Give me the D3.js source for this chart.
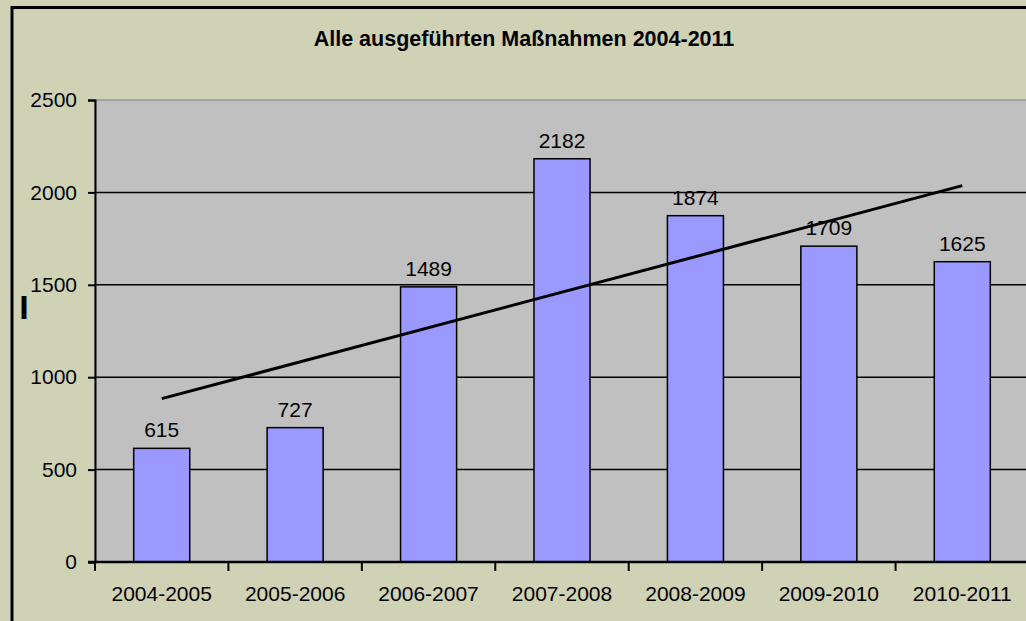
<!DOCTYPE html>
<html>
<head>
<meta charset="utf-8">
<script src="https://cdn.jsdelivr.net/npm/d3@7"></script>
<style>
  body { margin:0; background:#d0d2b5; }
  svg text { font-family: "Liberation Sans", Arial, sans-serif; }
</style>
</head>
<body>
<div id="chart"></div>
<script>
var categories = ["2004-2005","2005-2006","2006-2007","2007-2008","2008-2009","2009-2010","2010-2011"]
var values = [615, 727, 1489, 2182, 1874, 1709, 1625]
var yTicks = [0, 500, 1000, 1500, 2000, 2500]
var title = "Alle ausgeführten Maßnahmen 2004-2011"
var yTitle = "I"

var W = 1026, H = 621
var margin = {top: 100, left: 95, right: -3, bottom: 59} // plot runs off the right edge like the original
var width = W - margin.left - margin.right
var height = H - margin.top - margin.bottom
var fs = 21

var root = d3.select("#chart").append("svg")
    .attr("width", W).attr("height", H)

// chart area frame (cut off at right/bottom)
root.append("rect")
    .attr("x", 12).attr("y", 7.5).attr("width", W + 20).attr("height", H + 20)
    .attr("fill", "#d0d2b5").attr("stroke", "#000").attr("stroke-width", 3)

root.append("text")
    .attr("x", 524).attr("y", 46).attr("text-anchor", "middle")
    .attr("font-size", 21.5).attr("font-weight", "bold")
    .text(title)

root.append("text")
    .attr("x", 24).attr("y", 319).attr("text-anchor", "middle")
    .attr("font-size", 34).attr("font-weight", "bold")
    .text(yTitle)

var svg = root.append("g").attr("transform", `translate(${margin.left},${margin.top})`)

var x = d3.scaleBand().domain(categories).range([0, width]).paddingInner(0.58).paddingOuter(0.29)
var xc = d3.scalePoint().domain(categories).range([0, width]).padding(0.5) // category centres
var y = d3.scaleLinear().domain([0, 2500]).range([height, 0])

svg.append("rect").attr("width", width).attr("height", height)
    .attr("fill", "#c0c0c0").attr("stroke", "#808080").attr("stroke-width", 1)

// gridlines
svg.append("g")
    .selectAll("line").data(yTicks.filter(d => d > 0 && d < 2500)).join("line")
    .attr("x1", 0).attr("x2", width)
    .attr("y1", d => y(d)).attr("y2", d => y(d))
    .attr("stroke", "#000").attr("stroke-width", 1.5)

// bars
svg.append("g")
    .selectAll("rect").data(values).join("rect")
    .attr("x", (d, i) => x(categories[i]))
    .attr("y", d => y(d))
    .attr("width", x.bandwidth())
    .attr("height", d => height - y(d))
    .attr("fill", "#9999ff").attr("stroke", "#000").attr("stroke-width", 1.5)

// value labels
svg.append("g")
    .selectAll("text").data(values).join("text")
    .attr("x", (d, i) => xc(categories[i]))
    .attr("y", d => y(d) - 11)
    .attr("text-anchor", "middle").attr("font-size", fs)
    .text(d => d)

// linear trendline (least squares, like Excel)
var n = values.length
var mx = d3.mean(values, (d, i) => i), my = d3.mean(values)
var slope = d3.sum(values, (d, i) => (i - mx) * (d - my)) / d3.sum(values, (d, i) => (i - mx) ** 2)
var trend = categories.map((c, i) => [xc(c), y(my + slope * (i - mx))])
svg.append("path")
    .attr("d", d3.line()([trend[0], trend[n - 1]]))
    .attr("stroke", "#000").attr("stroke-width", 3).attr("fill", "none")

// y axis
var ya = svg.append("g")
    .call(d3.axisLeft(y).tickValues(yTicks).tickFormat(d3.format("d")).tickSize(7).tickPadding(11))
ya.select(".domain").attr("stroke-width", 2)
ya.selectAll(".tick line").attr("stroke-width", 2)
ya.selectAll(".tick text").attr("font-size", fs).attr("font-family", null).attr("fill", "#000")

// x axis
var xTickScale = d3.scaleLinear().domain([0, n]).range([0, width])
var xa = svg.append("g").attr("transform", `translate(0,${height})`)
xa.append("line").attr("x1", -7).attr("x2", width).attr("stroke", "#000").attr("stroke-width", 2.5)
xa.selectAll("line.tk").data(d3.range(n + 1)).join("line").attr("class", "tk")
    .attr("x1", d => xTickScale(d)).attr("x2", d => xTickScale(d))
    .attr("y1", 0).attr("y2", 9)
    .attr("stroke", "#000").attr("stroke-width", 2)
xa.selectAll("text").data(categories).join("text")
    .attr("x", d => xc(d)).attr("y", 39)
    .attr("text-anchor", "middle").attr("font-size", fs)
    .text(d => d)
</script>
</body>
</html>
